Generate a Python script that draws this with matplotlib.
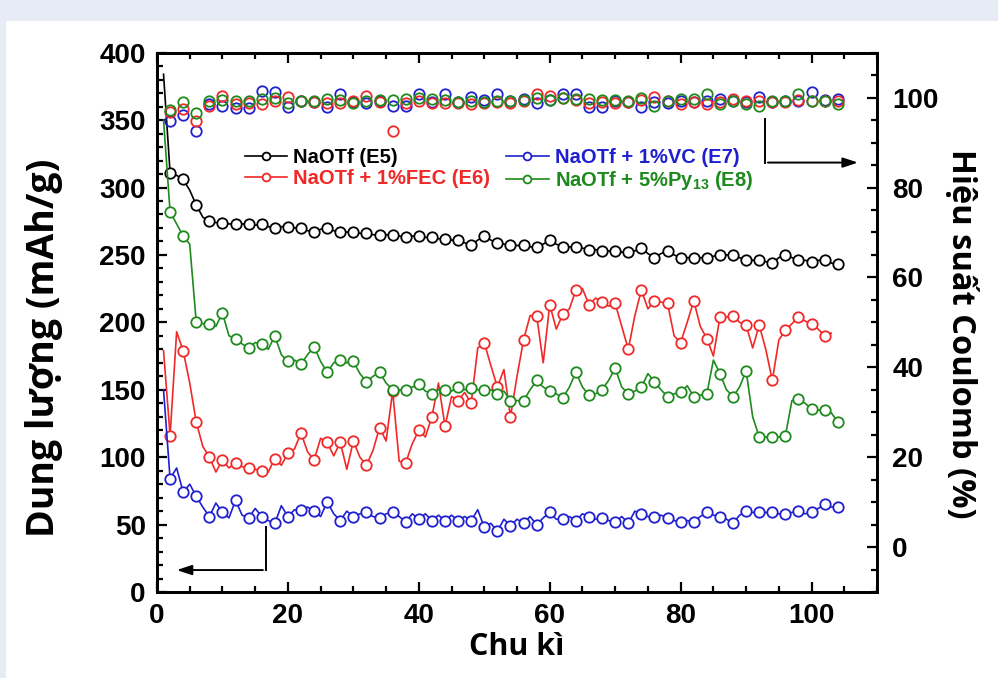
import numpy as np
import matplotlib
matplotlib.use('Agg')
import matplotlib.pyplot as plt
from matplotlib.ticker import MultipleLocator
from matplotlib.patches import Rectangle

plt.rcParams['mathtext.fontset'] = 'custom'
plt.rcParams['mathtext.rm'] = 'Liberation Sans:bold'
plt.rcParams['mathtext.it'] = 'Liberation Sans:bold'
plt.rcParams['mathtext.bf'] = 'Liberation Sans:bold'

# capacity (mAh/g), one value per cycle starting at cycle 1
cap_e5 = [384, 311, 309, 306, 298, 287, 278, 275, 274, 274,
          273, 273, 273, 273, 272, 273, 271, 270, 271, 271,
          270, 270, 268, 267, 269, 270, 268, 267, 267, 267,
          266, 266, 265, 265, 265, 265, 264, 263, 264, 264,
          263, 263, 262, 262, 261, 261, 259, 257, 261, 264,
          261, 259, 258, 257, 257, 257, 256, 256, 258, 261,
          258, 256, 256, 256, 255, 254, 254, 253, 253, 253,
          252, 252, 253, 255, 251, 248, 251, 253, 250, 248,
          248, 248, 248, 248, 249, 250, 250, 250, 248, 246,
          246, 246, 245, 244, 248, 250, 248, 246, 246, 245,
          246, 246, 244, 243]
cap_e6 = [179, 116, 193, 179, 155, 126, 108, 100, 89, 98,
          92, 96, 93, 92, 91, 90, 89, 99, 94, 103,
          106, 118, 104, 98, 114, 111, 101, 111, 91, 112,
          100, 94, 105, 122, 112, 149, 97, 96, 110, 120,
          115, 130, 155, 123, 145, 142, 148, 140, 181, 185,
          168, 152, 165, 130, 160, 187, 205, 205, 170, 213,
          195, 206, 210, 224, 225, 213, 218, 215, 212, 214,
          197, 180, 205, 224, 210, 216, 215, 214, 190, 185,
          200, 216, 197, 188, 175, 204, 204, 205, 200, 198,
          181, 198, 180, 157, 187, 194, 199, 204, 201, 199,
          195, 190, 192]
cap_e7 = [150, 84, 92, 74, 80, 71, 63, 56, 66, 59,
          55, 68, 57, 55, 62, 56, 53, 51, 64, 56,
          61, 61, 63, 60, 56, 67, 58, 53, 60, 56,
          58, 59, 56, 55, 58, 59, 56, 52, 58, 54,
          58, 53, 57, 53, 57, 53, 56, 53, 61, 48,
          51, 45, 54, 49, 54, 51, 56, 50, 55, 59,
          54, 54, 56, 53, 58, 56, 54, 55, 53, 52,
          56, 51, 60, 58, 56, 56, 57, 55, 53, 52,
          53, 52, 56, 59, 57, 56, 54, 51, 57, 60,
          59, 59, 59, 59, 58, 58, 59, 60, 58, 59,
          62, 65, 63, 63]
cap_e8 = [350, 282, 273, 264, 258, 200, 199, 199, 197, 207,
          190, 188, 184, 181, 185, 184, 180, 190, 176, 171,
          172, 169, 176, 182, 171, 163, 170, 172, 170, 171,
          162, 156, 160, 163, 155, 150, 150, 150, 152, 154,
          149, 147, 150, 150, 149, 152, 150, 151, 150, 150,
          150, 147, 149, 142, 142, 142, 150, 157, 152, 149,
          147, 144, 152, 163, 152, 146, 147, 150, 157, 166,
          152, 147, 149, 152, 162, 156, 150, 145, 147, 148,
          153, 145, 146, 147, 172, 162, 150, 145, 152, 164,
          130, 115, 115, 115, 115, 116, 142, 143, 140, 136,
          135, 135, 133, 126]

# coulombic efficiency (%), every second cycle from cycle 2
ce_e6 = [96.8, 97.5, 94.7, 98.2, 100.4, 98.5, 98.9, 98.5, 99.3, 100.2,
         99.3, 99.1, 98.9, 98.9, 99.3, 100.4, 99.0, 92.6, 98.9, 99.3,
         98.9, 98.9, 98.9, 98.5, 98.7, 99.0, 98.9, 99.2, 100.9, 100.4,
         100.0, 99.5, 98.9, 99.0, 98.9, 99.0, 99.4, 100.2, 99.3, 98.5,
         99.0, 98.5, 99.0, 99.6, 99.3, 99.3, 99.0, 99.0, 99.5, 99.3,
         99.3, 99.2]
ce_e7 = [94.9, 96.2, 92.5, 98.5, 98.2, 97.8, 97.8, 101.4, 101.2, 98.0,
         99.3, 99.1, 98.0, 100.9, 99.1, 98.7, 99.3, 98.2, 98.2, 100.9,
         99.0, 100.9, 99.0, 100.2, 99.5, 100.9, 99.3, 99.6, 98.8, 99.5,
         100.8, 100.8, 97.9, 97.9, 99.3, 99.0, 97.9, 99.0, 98.8, 99.3,
         99.0, 99.3, 99.6, 99.3, 99.1, 100.2, 99.0, 99.2, 99.3, 101.2,
         99.5, 99.6]
ce_e8 = [97.3, 99.0, 96.5, 99.3, 99.5, 99.3, 99.3, 99.6, 99.9, 98.9,
         99.3, 99.3, 99.6, 99.4, 98.9, 99.3, 99.4, 99.4, 99.6, 99.9,
         99.6, 99.4, 99.0, 99.3, 99.0, 99.3, 99.3, 99.4, 99.9, 99.4,
         99.9, 99.6, 99.6, 99.4, 99.4, 99.3, 100.0, 98.2, 99.3, 99.8,
         99.6, 100.8, 98.5, 99.3, 98.5, 98.2, 99.3, 99.3, 100.8, 99.3,
         99.3, 98.5]

labels = ['NaOTf (E5)', 'NaOTf + 1%FEC (E6)', 'NaOTf + 1%VC (E7)',
          'NaOTf + 5%Py$_{13}$ (E8)']
colors = ['black', '#f02828', '#1f1fd0', '#1e8a1e']

fig = plt.figure(figsize=(9.98, 6.78), dpi=100)
fig.patch.set_facecolor('#e7ebf6')
fig.add_artist(Rectangle((6 / 998, 0), 1, 1 - 21 / 678, transform=fig.transFigure,
                         facecolor='white', edgecolor='none', zorder=-10))

ax = fig.add_axes([0.1573, 0.1268, 0.7215, 0.7955])
ax2 = ax.twinx()

mk = dict(marker='o', markersize=7.5, markerfacecolor='white', markeredgewidth=1.3)
caps = [cap_e5, cap_e6, cap_e7, cap_e8]
for cap, c, lab in zip(caps, colors, labels):
    cyc = np.arange(1, len(cap) + 1)
    ax.plot(cyc, cap, color=c, lw=1.2, markevery=(1, 2), label=lab,
            markeredgecolor=c, **mk)

for ce, c in zip([ce_e7, ce_e6, ce_e8], [colors[2], colors[1], colors[3]]):
    cyc = np.arange(2, 2 * len(ce) + 1, 2)
    ax2.plot(cyc, ce, ls='none', markeredgecolor=c, **{**mk, 'markerfacecolor': 'none'})

ax.set_xlim(0, 110)
ax.set_ylim(0, 400)
ax2.set_ylim(-10, 110)

ax.xaxis.set_major_locator(MultipleLocator(20))
ax.xaxis.set_minor_locator(MultipleLocator(5))
ax.yaxis.set_major_locator(MultipleLocator(50))
ax.yaxis.set_minor_locator(MultipleLocator(10))
ax2.yaxis.set_major_locator(MultipleLocator(20))
ax2.yaxis.set_minor_locator(MultipleLocator(5))
ax2.set_yticks([0, 20, 40, 60, 80, 100])

tickfont = dict(family='Liberation Sans', weight='bold', size=20)
for a in (ax, ax2):
    for s in a.spines.values():
        s.set_linewidth(2)
    for lab in a.get_xticklabels() + a.get_yticklabels():
        lab.set_fontproperties(tickfont)
ax.tick_params(which='both', direction='in', top=True, width=1.6)
ax.tick_params(which='major', length=7)
ax.tick_params(which='minor', length=4)
ax.tick_params(axis='y', pad=8)
ax.tick_params(axis='x', pad=8)
ax2.tick_params(which='both', direction='in', width=1.6, pad=11)
ax2.tick_params(which='major', length=7)
ax2.tick_params(which='minor', length=4)

ax.set_xlabel('Chu kì', labelpad=2, family='Open Sans', weight='bold', size=22)
ax.set_ylabel('Dung lượng (mAh/g)', family='Open Sans', weight='bold', size=27)
ax.yaxis.set_label_coords(-0.131, 0.453)
ax2.set_ylabel('Hiệu suất Coulomb (%)', rotation=270, labelpad=26,
               family='Open Sans', weight='bold', size=23.5)
ax2.yaxis.set_label_coords(1.14, 0.478)

leg = ax.legend(loc='upper left', bbox_to_anchor=(0.108, 0.842), ncol=2, frameon=False,
                prop=dict(family='Liberation Sans', weight='bold', size=14.5),
                handlelength=2.1, handletextpad=0.3, columnspacing=0.8,
                labelspacing=0.12, borderpad=0, labelcolor='linecolor',
                markerscale=0.75)

# arrows pointing to the axes
ax.plot([92.9, 92.9], [351, 318.5], color='black', lw=1.4)
ax.annotate('', xy=(107.5, 318.5), xytext=(92.9, 318.5),
            arrowprops=dict(arrowstyle='-|>,head_length=0.9,head_width=0.3', color='black', lw=1.4))
ax.plot([16.6, 16.6], [48, 16.3], color='black', lw=1.4)
ax.annotate('', xy=(2.6, 16.3), xytext=(16.6, 16.3),
            arrowprops=dict(arrowstyle='-|>,head_length=0.9,head_width=0.3', color='black', lw=1.4))

fig.savefig('out.png', dpi=100)
